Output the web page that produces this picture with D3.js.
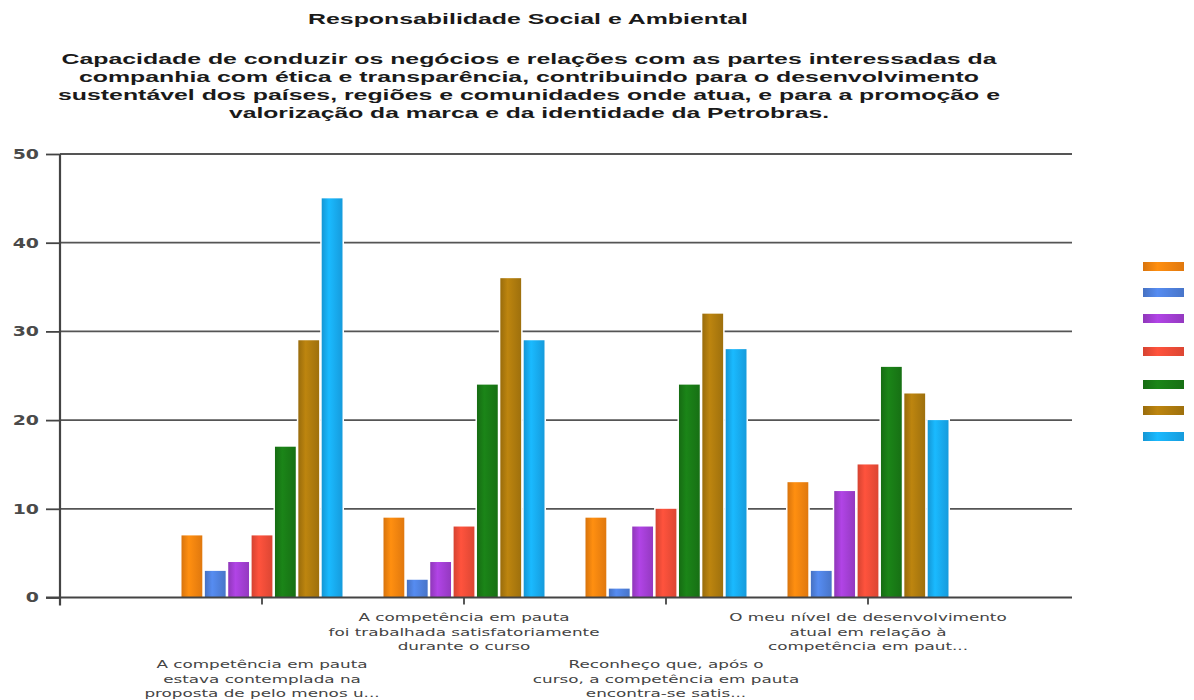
<!DOCTYPE html>
<html>
<head>
<meta charset="utf-8">
<script src="https://cdn.jsdelivr.net/npm/d3@7"></script>
<style>
  html, body { margin: 0; padding: 0; background: #fff; }
  svg { display: block; }
</style>
</head>
<body>
<svg id="chart" width="1194" height="700"></svg>
<script>
// ---- data ----
const title = "Responsabilidade Social e Ambiental";
const subtitleLines = [
  "Capacidade de conduzir os negócios e relações com as partes interessadas da",
  "companhia com ética e transparência, contribuindo para o desenvolvimento",
  "sustentável dos países, regiões e comunidades onde atua, e para a promoção e",
  "valorização da marca e da identidade da Petrobras."
];
const categories = [
  ["A competência em pauta", "estava contemplada na", "proposta de pelo menos u..."],
  ["A competência em pauta", "foi trabalhada satisfatoriamente", "durante o curso"],
  ["Reconheço que, após o", "curso, a competência em pauta", "encontra-se satis..."],
  ["O meu nível de desenvolvimento", "atual em relação à", "competência em paut..."]
];
const seriesNames = ["s1", "s2", "s3", "s4", "s5", "s6", "s7"];
const series1 = [7, 9, 9, 13];
const series2 = [3, 2, 1, 3];
const series3 = [4, 4, 8, 12];
const series4 = [7, 8, 10, 15];
const series5 = [17, 24, 24, 26];
const series6 = [29, 36, 32, 23];
const series7 = [45, 29, 28, 20];
const yTicks = [0, 10, 20, 30, 40, 50];
const palette = ["#f5830f", "#4f80dc", "#a23ed2", "#f14c38", "#197a16", "#ad7a0e", "#18aaf0"];

const allSeries = [series1, series2, series3, series4, series5, series6, series7];

// ---- layout ----
const SX = 1.5;               // horizontal stretch of the label text
const plotLeft = 60, plotRight = 1072, plotTop = 154, plotZero = 597.5;

const svg = d3.select("#chart");

const x = d3.scaleLinear().domain([0, categories.length + 1]).range([plotLeft, 1070]);
const inner = d3.scaleBand().domain(seriesNames).range([-80.5, 80.5]).paddingInner(0.11);
const y = d3.scaleLinear().domain([0, 50]).range([plotZero, plotTop]);

// bar shading gradients
const defs = svg.append("defs");
palette.forEach((c, i) => {
  const g = defs.append("linearGradient").attr("id", "grad" + i)
    .attr("x1", "0%").attr("x2", "100%").attr("y1", "0%").attr("y2", "0%");
  const base = d3.color(c);
  g.append("stop").attr("offset", "0%").attr("stop-color", base.darker(0.35));
  g.append("stop").attr("offset", "35%").attr("stop-color", base.brighter(0.25));
  g.append("stop").attr("offset", "100%").attr("stop-color", base.darker(0.25));
});

// ---- titles ----
svg.append("text")
  .attr("x", 528).attr("y", 24)
  .attr("text-anchor", "middle")
  .attr("font-family", "Liberation Sans, Arial, sans-serif")
  .attr("font-weight", "bold").attr("font-size", 14.5)
  .attr("fill", "#1a1a1a")
  .attr("textLength", 440).attr("lengthAdjust", "spacingAndGlyphs")
  .text(title);

const subWidths = [935, 900, 942, 600];
svg.append("g").selectAll("text").data(subtitleLines).join("text")
  .attr("x", 529).attr("y", (d, i) => 64 + i * 18)
  .attr("text-anchor", "middle")
  .attr("font-family", "Liberation Sans, Arial, sans-serif")
  .attr("font-weight", "bold").attr("font-size", 15.5)
  .attr("fill", "#1a1a1a")
  .attr("textLength", (d, i) => subWidths[i]).attr("lengthAdjust", "spacingAndGlyphs")
  .text(d => d);

// ---- grid ----
svg.append("g").selectAll("line").data(yTicks.filter(t => t > 0)).join("line")
  .attr("x1", plotLeft).attr("x2", plotRight)
  .attr("y1", d => y(d)).attr("y2", d => y(d))
  .attr("stroke", "#555").attr("stroke-width", 1.8);

// ---- bars ----
const rows = categories.map((c, ci) => seriesNames.map((s, si) => ({ ci, s, si, v: allSeries[si][ci] })));
const groups = svg.append("g").selectAll("g").data(rows).join("g")
  .attr("transform", (d, ci) => `translate(${x(ci + 1)},0)`);

groups.selectAll("rect.halo").data(d => d).join("rect")
  .attr("class", "halo")
  .attr("x", d => inner(d.s) - 1.5)
  .attr("width", inner.bandwidth() + 3)
  .attr("y", d => y(d.v) - 1.5)
  .attr("height", d => plotZero - y(d.v) + 1.5)
  .attr("fill", "#fff");

groups.selectAll("rect.bar").data(d => d).join("rect")
  .attr("class", "bar")
  .attr("x", d => inner(d.s))
  .attr("width", inner.bandwidth())
  .attr("y", d => y(d.v))
  .attr("height", d => plotZero - y(d.v))
  .attr("fill", d => `url(#grad${d.si})`);

// ---- axes ----
const axisColor = "#444";
// x axis line
svg.append("line")
  .attr("x1", plotLeft - 14).attr("x2", plotRight)
  .attr("y1", plotZero).attr("y2", plotZero)
  .attr("stroke", axisColor).attr("stroke-width", 2);

// y axis
const yAxis = svg.append("g")
  .attr("transform", `translate(${plotLeft},0)`)
  .call(d3.axisLeft(y).tickValues(yTicks).tickSize(14).tickPadding(6).tickSizeOuter(0));
yAxis.select(".domain").attr("stroke", axisColor).attr("stroke-width", 2.2)
  .attr("d", `M0,${plotTop}V${plotZero + 8}`);
yAxis.selectAll(".tick line").attr("stroke", axisColor).attr("stroke-width", 1.8);
yAxis.selectAll(".tick text")
  .attr("font-family", "DejaVu Sans, sans-serif")
  .attr("font-size", 14)
  .attr("font-weight", "bold")
  .attr("fill", "#4a4a4a")
  .attr("x", null)
  .attr("transform", `translate(-21,0) scale(1.35,1)`);

// category ticks
svg.append("g").selectAll("line").data(categories).join("line")
  .attr("x1", (d, i) => x(i + 1)).attr("x2", (d, i) => x(i + 1))
  .attr("y1", plotZero).attr("y2", plotZero + 7)
  .attr("stroke", axisColor).attr("stroke-width", 1.8);

// category labels, alternating between two rows
const catLabels = svg.append("g").selectAll("g").data(categories).join("g")
  .attr("transform", (d, i) => `translate(${x(i + 1)},${i % 2 === 0 ? 668 : 621}) scale(${SX},1)`);
catLabels.selectAll("text").data(d => d).join("text")
  .attr("x", 0).attr("y", (d, i) => i * 14.6)
  .attr("text-anchor", "middle")
  .attr("font-family", "DejaVu Sans, sans-serif")
  .attr("font-size", 11.2)
  .attr("fill", "#444")
  .text(d => d);

// ---- legend swatches ----
const legendY = i => 262 + i * 26 + (i >= 3 ? 7 : 0) + (i >= 4 ? 7 : 0);
svg.append("g").selectAll("rect").data(seriesNames).join("rect")
  .attr("x", 1143).attr("y", (d, i) => legendY(i))
  .attr("width", 41).attr("height", 9)
  .attr("fill", (d, i) => `url(#grad${i})`);
</script>
</body>
</html>
